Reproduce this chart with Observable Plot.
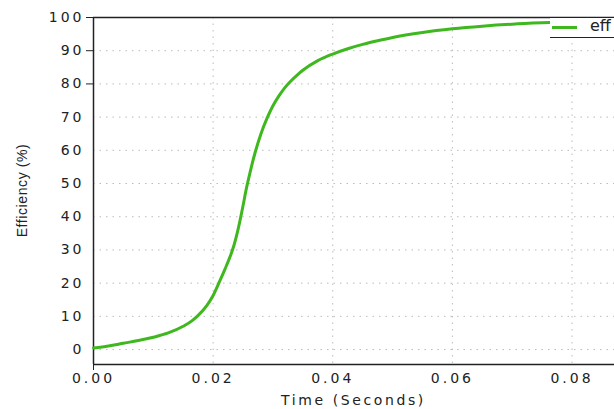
<!DOCTYPE html>
<html>
<head>
<meta charset="utf-8">
<script src="https://cdn.jsdelivr.net/npm/d3@7"></script>
<script src="https://cdn.jsdelivr.net/npm/@observablehq/plot@0.6"></script>
<style>
  html, body { margin: 0; padding: 0; background: #fff; }
  #wrap { position: relative; width: 614px; height: 409px; overflow: hidden; }
  #legend { position: absolute; left: 550px; top: 17px; width: 80px; height: 21px;
            background: #fff; border-top: 1.5px solid #222; border-bottom: 1.5px solid #222;
            box-sizing: border-box; }
  #legend .sw { position: absolute; left: 2px; top: 8px; width: 25px; height: 0; border-top: 3px solid #3fb81f; }
  #legend .lb { position: absolute; left: 40px; top: -2px; font: 16px "DejaVu Sans"; letter-spacing: 0px; color: #222; }
  svg text { fill: #222; }
</style>
</head>
<body>
<div id="wrap">
  <div id="chart"></div>
  <div id="legend"><div class="sw"></div><div class="lb">eff</div></div>
</div>
<script>
const seriesName = "eff";
const time = [0, 0.0025, 0.005, 0.0075, 0.01, 0.0125, 0.015, 0.0165, 0.0175, 0.019, 0.020, 0.021, 0.022, 0.023, 0.0235, 0.024, 0.0245, 0.025, 0.0255, 0.026, 0.0265, 0.027, 0.028, 0.029, 0.030, 0.031, 0.032, 0.033, 0.034, 0.035, 0.0375, 0.040, 0.0425, 0.045, 0.0475, 0.05, 0.055, 0.06, 0.065, 0.07, 0.075, 0.08, 0.085, 0.09];
const efficiency = [0.5, 1.1, 1.9, 2.7, 3.7, 5.0, 7.0, 8.7, 10.3, 13.4, 16.3, 20.2, 24.3, 28.8, 31.5, 34.9, 38.9, 43.3, 48.0, 52.0, 55.8, 59.2, 65.0, 69.6, 73.4, 76.4, 78.9, 80.9, 82.6, 84.1, 87.0, 89.0, 90.6, 91.9, 93.0, 94.0, 95.5, 96.6, 97.4, 98.0, 98.4, 98.7, 98.9, 99.0];
const xTicks = [0, 0.02, 0.04, 0.06, 0.08];
const yTicks = [0, 10, 20, 30, 40, 50, 60, 70, 80, 90, 100];
const yTickMarks = [80, 90, 100];
const xDomain = [0, 0.0871];
const yDomain = [-4.5, 100];

const data = time.map((t, i) => ({t, e: efficiency[i]}));

const tickFont = {fontSize: 14, fontFamily: "DejaVu Sans"};

const chart = Plot.plot({
  width: 614,
  height: 409,
  marginLeft: 93,
  marginRight: 0,
  marginTop: 17,
  marginBottom: 45,
  style: {fontFamily: "DejaVu Sans", fontSize: "14px", color: "#222", background: "#fff"},
  x: {domain: xDomain},
  y: {domain: yDomain},
  marks: [
    Plot.gridY(yTicks, {stroke: "#aaa", strokeOpacity: 0.8, strokeDasharray: "1.5,5"}),
    Plot.gridX(xTicks, {stroke: "#aaa", strokeOpacity: 0.8, strokeDasharray: "1.5,5"}),
    Plot.axisY(yTicks, {tickSize: 0, tickPadding: 9, ...tickFont, label: null}),
    Plot.axisY(yTickMarks, {tickSize: 7, tickFormat: () => "", label: null, stroke: "#222"}),
    Plot.axisX(xTicks, {tickSize: 0, tickPadding: 9, ...tickFont, tickFormat: d3.format(".2f"), label: null}),
    Plot.axisX([0], {tickSize: 6, tickFormat: () => "", label: null, stroke: "#222"}),
    Plot.ruleX([xDomain[0]], {stroke: "#222", strokeWidth: 1.5}),
    Plot.ruleY(yDomain, {stroke: "#222", strokeWidth: 1.5}),
    Plot.line(data, {x: "t", y: "e", stroke: "#3fb81f", strokeWidth: 3, curve: "monotone-x"})
  ]
});
document.getElementById("chart").appendChild(chart);
chart.querySelectorAll("text").forEach(t => { t.style.letterSpacing = "3px"; });

// axis titles as real SVG text, positioned from the plot's own dimensions
const ns = "http://www.w3.org/2000/svg";
const xs = chart.scale("x"), ys = chart.scale("y");
const xt = document.createElementNS(ns, "text");
xt.setAttribute("x", (xs.range[0] + xs.range[1]) / 2);
xt.setAttribute("y", 405);
xt.setAttribute("text-anchor", "middle");
xt.setAttribute("font-family", "DejaVu Sans");
xt.setAttribute("font-size", 14);
xt.style.letterSpacing = "2.6px";
xt.textContent = "Time (Seconds)";
chart.appendChild(xt);
const yt = document.createElementNS(ns, "text");
const yc = (ys.range[0] + ys.range[1]) / 2;
yt.setAttribute("transform", `translate(27,${yc}) rotate(-90)`);
yt.setAttribute("text-anchor", "middle");
yt.setAttribute("font-family", "Liberation Sans");
yt.setAttribute("font-size", 14);
yt.style.letterSpacing = "0.6px";
yt.textContent = "Efficiency (%)";
chart.appendChild(yt);
</script>
</body>
</html>
